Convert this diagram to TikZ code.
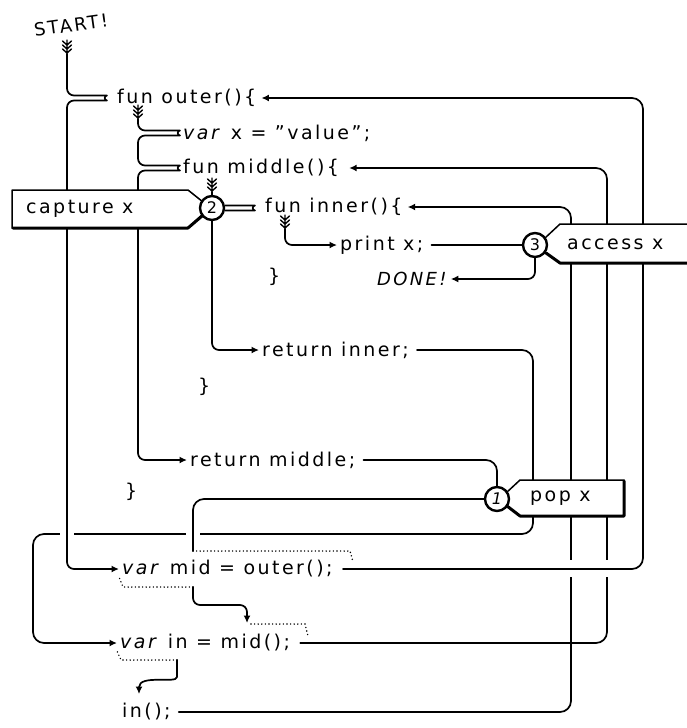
\documentclass[tikz,border=0pt]{standalone}
\usepackage{fontspec}
\setmainfont{DejaVu Sans}[LetterSpace=13]
\usetikzlibrary{arrows.meta}
\pgfdeclarelayer{lines}
\pgfdeclarelayer{boxes}
\pgfsetlayers{lines,boxes,main}
\begin{document}
\begin{tikzpicture}[x=1pt,y=-1pt,
 conn/.style={line width=1.7pt,line cap=round,line join=round,rounded corners=7pt},
 bigconn/.style={conn,rounded corners=11pt},
 arr/.style={-{Latex[length=7.5pt,width=7pt]}},
 code/.style={anchor=west,inner sep=0pt,font=\fontsize{19}{21}\selectfont},
 num/.style={circle,draw,line width=2.4pt,fill=white,minimum size=24pt,inner sep=0pt,font=\fontsize{16}{16}\selectfont},
 dots/.style={line width=1.6pt,line cap=round,dash pattern=on 0pt off 3.6pt},
 boxline/.style={line width=1.5pt,line join=round,fill=white},
 shadow/.style={line width=3pt,line cap=round,line join=round},
 fletch/.pic={\draw[line width=1.4pt,line cap=round,line join=round]
   (-4.5,-5)--(0,-1)--(4.5,-5) (-4.5,-1)--(0,3)--(4.5,-1) (-4.5,3)--(0,7)--(4.5,3) (0,-6)--(0,9);}
]
\useasboundingbox (0,0) rectangle (687,728);

% ---- texts
\node[code,anchor=center,rotate=8,font=\fontsize{18}{18}\selectfont] (start) at (71,25) {START!};
\node[code] (outer) at (117,98) {fun outer()\{};
\node[code] (varx) at (183,133) {\textit{var} x = "value";};
\node[code] (middle) at (183,168) {fun middle()\{};
\node[code] (inner) at (265,207) {fun inner()\{};
\node[code] (print) at (340,245) {print x;};
\node[code] (br1) at (268,277) {\}};
\node[code,font=\itshape\fontsize{18}{18}\selectfont] (done) at (377,279) {DONE!};
\node[code] (retinner) at (262,350) {return inner;};
\node[code] (br2) at (198,387) {\}};
\node[code] (retmiddle) at (190,460) {return middle;};
\node[code] (br3) at (125,492) {\}};
\node[code] (varmid) at (122,569) {\textit{var} mid = outer();};
\node[code] (varin) at (120,643) {\textit{var} in = mid();};
\node[code] (incall) at (122,712) {in();};

\node[code] (capture) at (26,209) {capture x};
\node[code] (access) at (567,244) {access x};
\node[code] (pop) at (530,498) {pop x};

\node[num] (c2) at (212,208) {2};
\node[num] (c3) at (535,245) {3};
\node[num,font=\itshape\fontsize{16}{16}\selectfont] (c1) at (497,499) {1};

% ---- connectors
\begin{pgfonlayer}{lines}
 % return inner -> var in (passes behind pop x)
 \draw[bigconn,arr] ([xshift=8pt]retinner.east) -| (533,534) -| (33,600) |- ([xshift=-3pt]varin.west);
 \fill[white] (60,530) rectangle (74,538);
 \fill[white] (186,530) rectangle (200,538);

 % START -> fun outer -> var mid
 \pic at (67,46) {fletch};
 \draw[conn,arr] (67,54) -- (67,95.5) -- (100,95.5) .. controls (104,95.5) and (104,100.5) .. (100,100.5)
   -- (67,100.5) -- (67,569) -- ([xshift=-3pt]varmid.west);

 % outer body -> var x, fun middle -> return middle
 \pic at (138,111) {fletch};
 \draw[conn,arr] (138,119) -- (138,130.5) -- (173,130.5) .. controls (177,130.5) and (177,135.5) .. (173,135.5)
   -- (138,135.5) -- (138,165.5) -- (173,165.5) .. controls (177,165.5) and (177,170.5) .. (173,170.5)
   -- (138,170.5) -- (138,460) -- ([xshift=-3pt]retmiddle.west);

 % middle body
 \pic at (212,184) {fletch};
 \draw[conn] (212,192) -- (c2.north);
 \draw[conn] ([yshift=2.5pt]c2.east) -- (248,205.5) .. controls (252,205.5) and (252,210.5) .. (248,210.5) -- ([yshift=-2.5pt]c2.east);
 \draw[conn,arr] (c2.south) |- ([xshift=-3pt]retinner.west);

 % inner body
 \pic at (285,221) {fletch};
 \draw[conn,arr] (285,229) |- ([xshift=-3pt]print.west);
 \draw[conn] ([xshift=8pt]print.east) -- (c3.west);
 \draw[conn,arr] (c3.south) |- ([xshift=4pt]done.east);

 % return middle -> pop x -> var mid -> mid()
 \draw[bigconn] ([xshift=8pt]retmiddle.east) -| (c1.north);
 \draw[bigconn] (c1.west) -| (193,551);
 \draw[dots] (193,551) -- (350,551) -- (353,562);
 \draw[dots] (193,587) -- (123,587) -- (119,577);
 \draw[conn,arr] (193,587) -- (193,605) -- (247,605) -- (247,623);
 \draw[dots] (251,624) -- (305,624) -- (308,636);

 % var in -> in()
 \draw[dots] (177,660) -- (121,660) -- (117,651);
 \draw[conn,arr] (177,660) -- (177,670) .. controls (177,684) and (139,674) .. (139,694);

 % calls
 \draw[bigconn,arr] ([xshift=10pt]varin.east) -| (607,400) |- ([xshift=10pt]middle.east);
 \draw[bigconn,arr] ([xshift=8pt]incall.east) -| (571,400) |- ([xshift=5pt]inner.east);
 \fill[white] (566,560) rectangle (576,577);
 \fill[white] (602,560) rectangle (612,577);
 \draw[bigconn,arr] ([xshift=10pt]varmid.east) -| (643,300) |- ([xshift=5pt]outer.east);
\end{pgfonlayer}

% ---- boxes
\begin{pgfonlayer}{boxes}
 \draw[boxline] (12,190) -- (188,190) -- (203,202) -- (203,214) -- (188,228) -- (12,228) -- cycle;
 \draw[shadow] (13,228) -- (188,228) -- (202,216);
 \draw[boxline] (700,224) -- (560,224) -- (545,238) -- (545,252) -- (560,263) -- (700,263) -- cycle;
 \draw[shadow] (546,253) -- (560,263) -- (700,263);
 \draw[boxline] (624,480) -- (520,480) -- (506,493) -- (506,505) -- (520,516) -- (624,516) -- cycle;
 \draw[shadow] (507,506) -- (520,516) -- (624,516) -- (624,481);
\end{pgfonlayer}
\end{tikzpicture}
\end{document}
